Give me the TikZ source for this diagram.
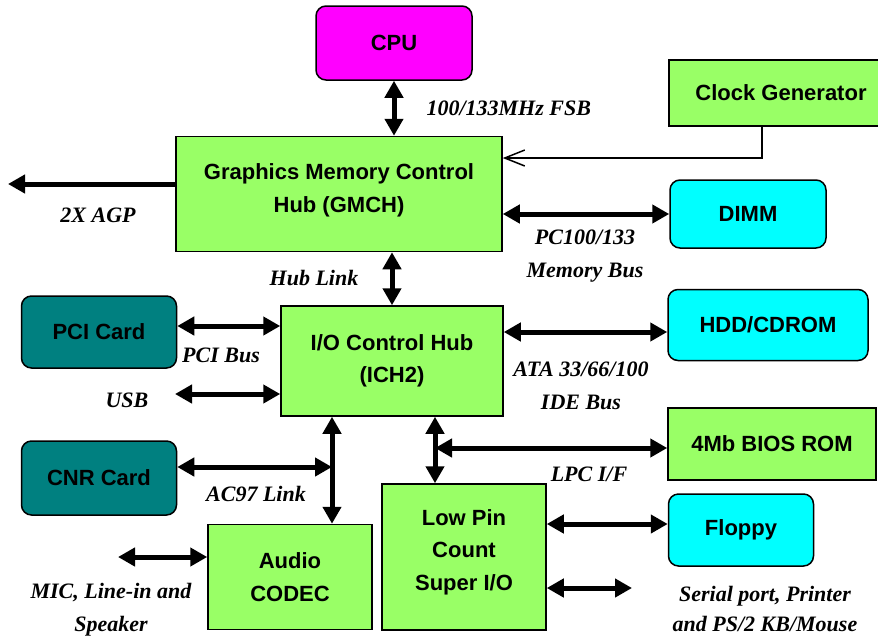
\documentclass[tikz,border=0pt]{standalone}
\usepackage{fontspec}
\setmainfont{Liberation Serif}
\setsansfont{Liberation Sans}
\usetikzlibrary{arrows.meta}

\definecolor{boxgreen}{RGB}{153,255,102}
\definecolor{boxcyan}{RGB}{0,255,255}
\definecolor{boxteal}{RGB}{0,128,128}
\definecolor{boxmagenta}{RGB}{255,0,255}

\begin{document}
\begin{tikzpicture}[x=1pt,y=-1pt,>={Triangle[length=17pt,width=18pt]}]
		\tikzstyle{every node} = [font=\fontsize{22}{33}\selectfont];
		\tikzstyle{hub} = [draw=black,line width=1.5pt,fill=boxgreen,align=center,
			font=\sffamily\bfseries\fontsize{22}{32.5}\selectfont,inner sep=0pt];
		\tikzstyle{dev} = [hub,rounded corners=10pt,fill=boxcyan];
		\tikzstyle{card} = [hub,rounded corners=10pt,fill=boxteal];
		\tikzstyle{lbl} = [align=center,font=\rmfamily\bfseries\itshape\fontsize{22}{33}\selectfont];
		\tikzstyle{bus} = [<->,line width=5pt];
		\useasboundingbox (0,0) rectangle (878,638);
		\node[hub,fill=boxmagenta,rounded corners=10pt,minimum width=156pt,minimum height=74pt] (cpu) at (394,43) {CPU};
		\node[hub,minimum width=224pt,minimum height=66pt] (clk) at (781,93) {Clock Generator};
		\node[hub,minimum width=326pt,minimum height=115pt,text depth=12pt] (gmch) at (339,194) {Graphics Memory Control\\Hub (GMCH)};
		\node[dev,minimum width=156pt,minimum height=68pt] (dimm) at (748,214) {DIMM};
		\node[card,minimum width=155pt,minimum height=72pt] (pci) at (99,332) {PCI Card};
		\node[hub,minimum width=222pt,minimum height=110pt] (ich) at (392,361) {I/O Control Hub\\(ICH2)};
		\node[dev,minimum width=200pt,minimum height=71pt] (hdd) at (768,325) {HDD/CDROM};
		\node[card,minimum width=155pt,minimum height=74pt] (cnr) at (99,478) {CNR Card};
		\node[hub,minimum width=208pt,minimum height=72pt] (bios) at (772,444) {4Mb BIOS ROM};
		\node[hub,minimum width=164pt,minimum height=146pt,text depth=14pt] (lpc) at (464,557) {Low Pin\\Count\\Super I/O};
		\node[dev,minimum width=145pt,minimum height=72pt] (floppy) at (741,530) {Floppy};
		\node[hub,minimum width=164pt,minimum height=105pt] (audio) at (290,577) {Audio\\CODEC};
		% free ends and bus taps
		\coordinate (agp) at (8,184);
		\coordinate (usb) at (175,394);
		\coordinate (mic) at (118,557);
		\coordinate (ser) at (632,588);
		\coordinate (acbus) at ([xshift=42pt]audio.north);
		\coordinate (lpcbus) at ([xshift=-29pt]lpc.north);
		% labels
		\node[lbl,anchor=west] (fsb) at (423,108) {100/133MHz FSB};
		\node[lbl] (agplbl) at (98,215) {2X AGP};
		\node[lbl] (mem) at (585,256) {PC100/133\\Memory Bus};
		\node[lbl] (hublink) at (314,278) {Hub Link};
		\node[lbl] (pcibus) at (221,355) {PCI Bus};
		\node[lbl] (usblbl) at (127,400) {USB};
		\node[lbl] (ide) at (581,386) {ATA 33/66/100\\IDE Bus};
		\node[lbl] (lpcif) at (589,474) {LPC I/F};
		\node[lbl] (ac97) at (256,494) {AC97 Link};
		\node[lbl] (miclbl) at (111,610) {MIC, Line-in and\\Speaker};
		\node[lbl,font=\rmfamily\bfseries\itshape\fontsize{22}{30}\selectfont] (serlbl) at (765,609) {Serial port, Printer\\and PS/2 KB/Mouse};
		% connectors
		\draw[bus] (cpu.south) -- (cpu.south |- gmch.north);
		\draw[-{Straight Barb[length=20pt,width=16pt]},line width=1.5pt] ([xshift=-19pt]clk.south) |- ([yshift=36pt]gmch.east);
		\draw[->,line width=5pt] ([yshift=10pt]gmch.west) -- (agp);
		\draw[bus] (dimm.west) -- (dimm.west -| gmch.east);
		\draw[bus] (ich.north) -- (ich.north |- gmch.south);
		\draw[bus] ([yshift=6pt]pci.east) -- ([yshift=6pt]pci.east -| ich.west);
		\draw[bus] (usb) -- (usb -| ich.west);
		\draw[bus] ([yshift=-7pt]hdd.west) -- ([yshift=-7pt]hdd.west -| ich.east);
		\draw[bus] (acbus) -- (acbus |- ich.south);
		\draw[bus] ([yshift=11pt]cnr.east) -- ([yshift=11pt]cnr.east -| acbus);
		\draw[bus] (lpcbus) -- (lpcbus |- ich.south);
		\draw[bus] ([yshift=-4pt]bios.west) -- ([yshift=-4pt]bios.west -| lpcbus);
		\draw[bus] ([yshift=6pt]floppy.west) -- ([yshift=6pt]floppy.west -| lpc.east);
		\draw[bus] (lpc.east |- ser) -- (ser);
		\draw[bus] (mic) -- (mic -| audio.west);
	\end{tikzpicture}
\end{document}
